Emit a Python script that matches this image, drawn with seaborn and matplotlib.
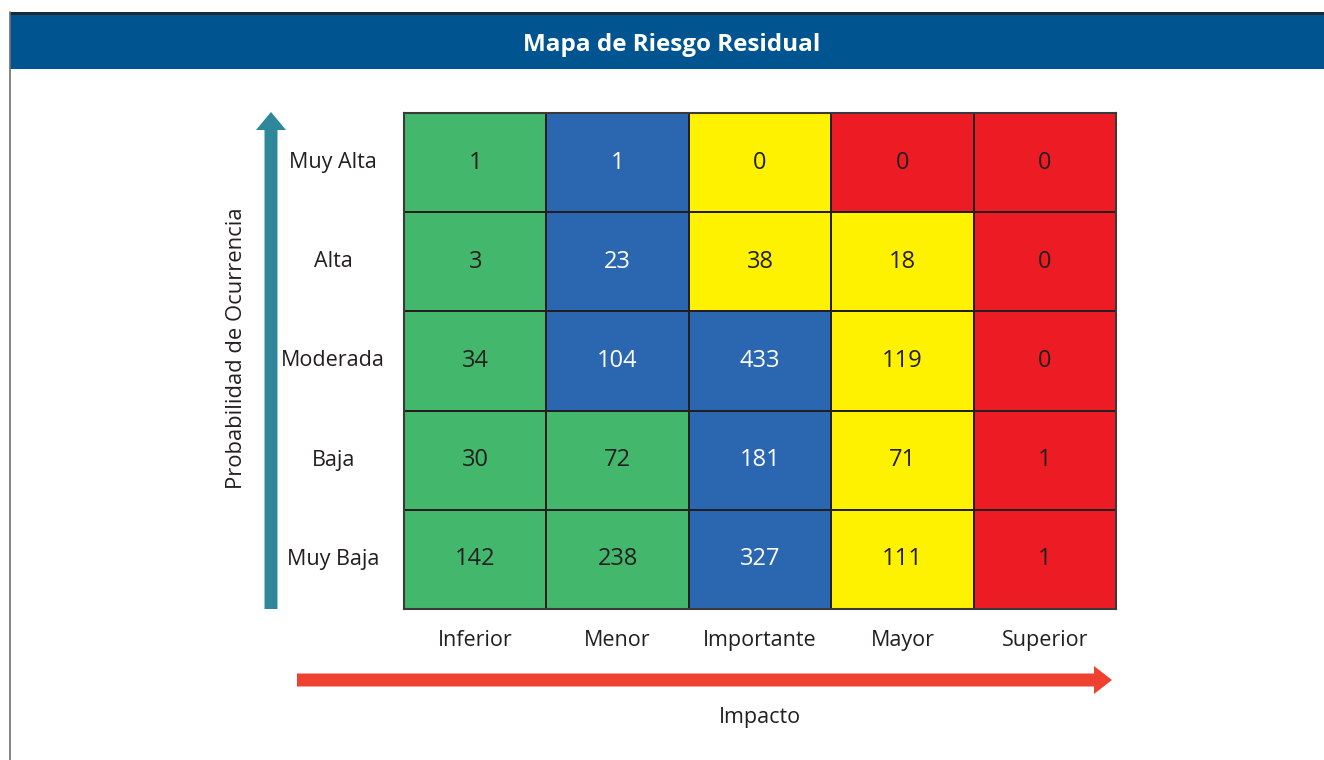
import numpy as np
import matplotlib.pyplot as plt
from matplotlib.colors import ListedColormap
from matplotlib.patches import FancyArrow, Rectangle
import seaborn as sns

# datos del mapa (filas: de Muy Alta a Muy Baja)
probabilidad = ['Muy Alta', 'Alta', 'Moderada', 'Baja', 'Muy Baja']
impacto = ['Inferior', 'Menor', 'Importante', 'Mayor', 'Superior']
conteos = [[1, 1, 0, 0, 0],
           [3, 23, 38, 18, 0],
           [34, 104, 433, 119, 0],
           [30, 72, 181, 71, 1],
           [142, 238, 327, 111, 1]]
# zona de riesgo de cada celda: 0 verde, 1 azul, 2 amarillo, 3 rojo
zonas = [[0, 1, 2, 3, 3],
         [0, 1, 2, 2, 3],
         [0, 1, 1, 2, 3],
         [0, 0, 1, 2, 3],
         [0, 0, 1, 2, 3]]
colores_zona = ['#43B86D', '#2B67B0', '#FFF200', '#ED1C24']

sns.set_theme(style='white')
plt.rcParams['font.family'] = ['Open Sans', 'DejaVu Sans']
texto = '#231F20'

fig = plt.figure(figsize=(13.24, 7.6), dpi=100)

# capa de fondo en pixeles para cabecera, marco y flechas
bg = fig.add_axes([0, 0, 1, 1])
bg.set_xlim(0, 1324)
bg.set_ylim(760, 0)
bg.axis('off')
bg.add_patch(Rectangle((10, 14), 1314, 55, color='#00548F', lw=0))
bg.add_patch(Rectangle((10, 12), 1314, 2.5, color='#1B2A3A', lw=0))
bg.plot([10, 10], [12, 760], color='#6D6E71', lw=1.2)
bg.text(672, 45, 'Mapa de Riesgo Residual', color='white', fontsize=17.5,
        fontweight='bold', ha='center', va='center')
bg.add_patch(FancyArrow(271, 609, 0, -479, width=13, head_width=30,
                        head_length=18, length_includes_head=False,
                        color='#2E879B', lw=0))
bg.add_patch(FancyArrow(297, 680, 797, 0, width=13, head_width=28,
                        head_length=18, length_includes_head=False,
                        color='#EF4130', lw=0))
bg.text(237, 348, 'Probabilidad de Ocurrencia', rotation=90, fontsize=15.8,
        color=texto, ha='center', va='center')
bg.text(760, 718, 'Impacto', fontsize=15.5, color=texto, ha='center', va='center')

ax = fig.add_axes([404 / 1324, 1 - 609 / 760, 712 / 1324, 496 / 760])
sns.heatmap(np.array(zonas), ax=ax, cmap=ListedColormap(colores_zona),
            vmin=-0.5, vmax=3.5, cbar=False, annot=np.array(conteos), fmt='d',
            annot_kws={'fontsize': 17, 'color': texto},
            linewidths=1.3, linecolor=texto,
            xticklabels=impacto, yticklabels=probabilidad)

zona_plana = np.array(zonas).ravel()
for t, z in zip(ax.texts, zona_plana):
    t.set_color('white' if z == 1 else texto)

for s in ax.spines.values():
    s.set_visible(True)
    s.set_color('#3A3A3A')
    s.set_linewidth(1.5)

ax.tick_params(length=0, labelsize=15.5, colors=texto)
ax.tick_params(axis='x', pad=15)
plt.setp(ax.get_yticklabels(), rotation=0, ha='center')
ax.yaxis.set_tick_params(pad=51)

fig.savefig('out.png', dpi=100)
